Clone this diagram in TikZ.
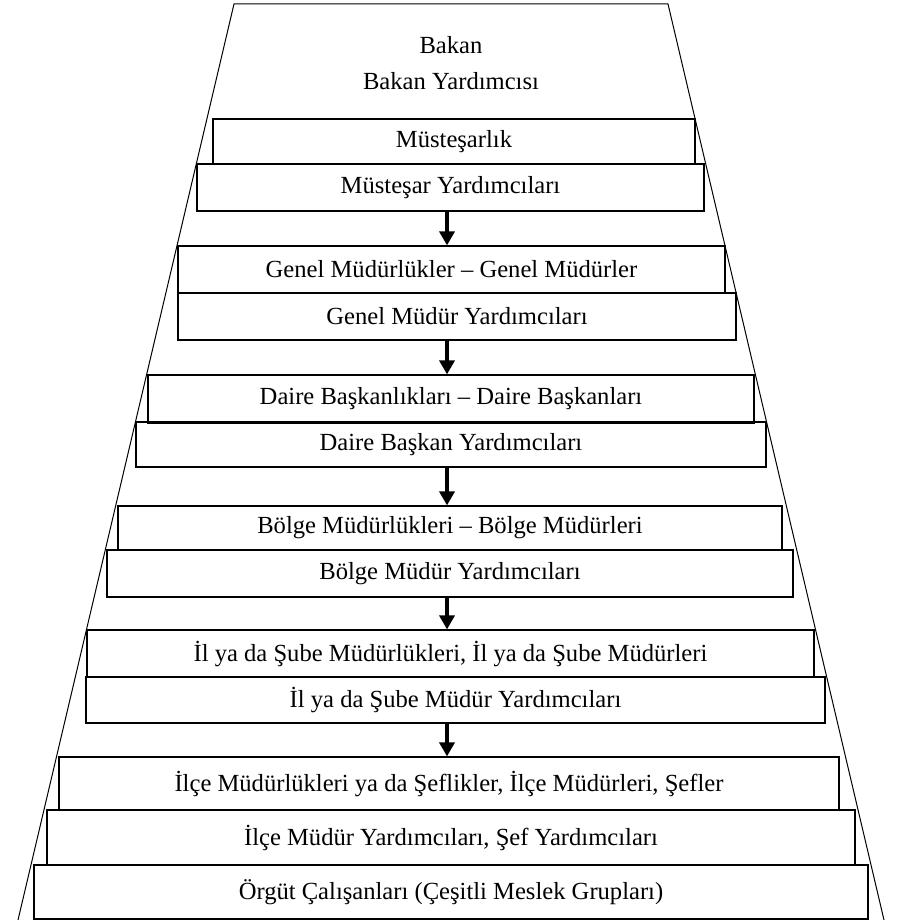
\documentclass[tikz,border=0pt]{standalone}
\usepackage{fontspec}
\setmainfont{Liberation Serif}
\usetikzlibrary{arrows.meta}
\begin{document}
\begin{tikzpicture}[x=1pt,y=-1pt,
  txt/.style={font=\fontsize{24.6}{29}\selectfont},
  box/.style={draw, line width=1.2pt, inner sep=0pt, txt},
  lbl/.style={inner sep=0pt, txt},
  arr/.style={line width=3.6pt, -{Triangle[length=14pt,width=15pt]}},
  edge/.style={line width=1pt}]
\useasboundingbox (0,0) rectangle (897,920);
% trapezoid
\coordinate (tl) at (234,4);
\coordinate (tr) at (668,4);
\coordinate (bl) at (18,920);
\coordinate (br) at (884,920);
\draw[edge] (bl) -- (tl) -- (tr) -- (br);
\coordinate (ax) at (447,0);
% top labels
\node[lbl] (bakan) at (451,45) {Bakan};
\node[lbl] (bakany) at (451,81) {Bakan Yardımcısı};
% boxes
\node[box, minimum width=482pt, minimum height=45pt] (must) at (454,141.5) {Müsteşarlık};
\node[box, minimum width=507pt, minimum height=47pt] (musy) at (450.5,187.5) {Müsteşar Yardımcıları};
\node[box, minimum width=547pt, minimum height=47pt] (gen) at (451.5,269.5) {Genel Müdürlükler – Genel Müdürler};
\node[box, minimum width=558pt, minimum height=47pt] (geny) at (457,316.5) {Genel Müdür Yardımcıları};
\node[box, minimum width=606pt, minimum height=47pt] (dai) at (451,398.5) {Daire Başkanlıkları – Daire Başkanları};
\draw[line width=2.4pt] (dai.south west) -- (dai.south east);
\node[box, minimum width=630pt, minimum height=45pt] (daiy) at (451,444.5) {Daire Başkan Yardımcıları};
\node[box, minimum width=664pt, minimum height=44pt] (bol) at (450,528) {Bölge Müdürlükleri – Bölge Müdürleri};
\node[box, minimum width=686pt, minimum height=47pt] (boly) at (450,573.5) {Bölge Müdür Yardımcıları};
\node[box, minimum width=727pt, minimum height=47pt] (il) at (450.5,653.5) {İl ya da Şube Müdürlükleri, İl ya da Şube Müdürleri};
\node[box, minimum width=739pt, minimum height=46pt] (ily) at (455.5,700) {İl ya da Şube Müdür Yardımcıları};
\node[box, minimum width=780pt, minimum height=53pt] (ilce) at (449,783.5) {İlçe Müdürlükleri ya da Şeflikler, İlçe Müdürleri, Şefler};
\node[box, minimum width=808pt, minimum height=55pt] (ilcey) at (451,837.5) {İlçe Müdür Yardımcıları, Şef Yardımcıları};
\node[box, minimum width=834pt, minimum height=54pt] (orgut) at (451,892) {Örgüt Çalışanları (Çeşitli Meslek Grupları)};
% arrows
\draw[arr] (musy.south -| ax) -- (gen.north -| ax);
\draw[arr] (geny.south -| ax) -- (dai.north -| ax);
\draw[arr] (daiy.south -| ax) -- (bol.north -| ax);
\draw[arr] (boly.south -| ax) -- (il.north -| ax);
\draw[arr] (ily.south -| ax) -- (ilce.north -| ax);
\end{tikzpicture}
\end{document}
